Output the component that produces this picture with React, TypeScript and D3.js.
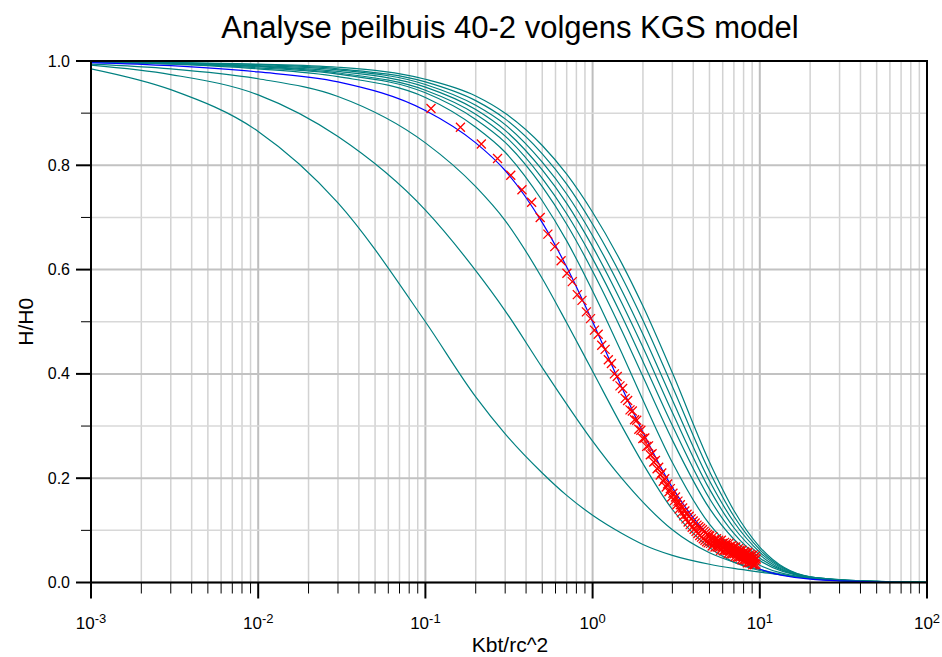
import * as d3 from 'd3'

// sample points along the type curves (x = Kbt/rc^2)
const curveX = [0.001, 0.003, 0.01, 0.03, 0.1, 0.2, 0.3, 0.5, 0.7, 1, 1.5, 2, 3, 5, 7, 10, 20, 50, 100]

// KGS type curves (teal)
const curveA = [0.985, 0.945, 0.865, 0.728, 0.5, 0.356, 0.285, 0.21, 0.167, 0.129, 0.094, 0.073, 0.052, 0.035, 0.027, 0.02, 0.008, 0.002, 0.001]
const curveB = [0.992, 0.974, 0.935, 0.855, 0.714, 0.598, 0.521, 0.412, 0.342, 0.271, 0.199, 0.154, 0.101, 0.057, 0.039, 0.025, 0.008, 0.002, 0.001]
const curveC = [0.994, 0.985, 0.966, 0.932, 0.843, 0.759, 0.694, 0.583, 0.498, 0.405, 0.299, 0.228, 0.14, 0.067, 0.039, 0.023, 0.008, 0.0015, 0]
const curveD1 = [0.998, 0.994, 0.985, 0.97, 0.93, 0.873, 0.825, 0.732, 0.655, 0.559, 0.439, 0.35, 0.23, 0.112, 0.064, 0.033, 0.009, 0.001, 0]
const curveD2 = [0.998, 0.995, 0.987, 0.975, 0.939, 0.888, 0.844, 0.759, 0.687, 0.597, 0.482, 0.395, 0.273, 0.142, 0.083, 0.042, 0.0095, 0.001, 0]
const curveD3 = [0.998, 0.995, 0.989, 0.977, 0.944, 0.898, 0.856, 0.775, 0.707, 0.621, 0.51, 0.424, 0.301, 0.161, 0.094, 0.047, 0.01, 0.0015, 0]
const curveD4 = [0.999, 0.996, 0.99, 0.98, 0.95, 0.907, 0.867, 0.791, 0.727, 0.644, 0.535, 0.451, 0.326, 0.179, 0.105, 0.053, 0.01, 0.0015, 0]
const curveD5 = [0.999, 0.996, 0.991, 0.983, 0.955, 0.915, 0.878, 0.806, 0.745, 0.665, 0.559, 0.476, 0.35, 0.195, 0.116, 0.058, 0.0105, 0.0017, 0]
const curveD6 = [0.999, 0.997, 0.993, 0.985, 0.96, 0.924, 0.889, 0.822, 0.764, 0.687, 0.585, 0.503, 0.376, 0.213, 0.127, 0.063, 0.011, 0.002, 0]
const curveD7 = [0.999, 0.997, 0.994, 0.988, 0.965, 0.933, 0.9, 0.838, 0.783, 0.71, 0.611, 0.53, 0.402, 0.231, 0.138, 0.068, 0.011, 0.002, 0]
const typeCurves = [curveA, curveB, curveC, curveD1, curveD2, curveD3, curveD4, curveD5, curveD6, curveD7]

// fitted curve (blue)
const fitCurve = [0.997, 0.991, 0.979, 0.96, 0.905, 0.843, 0.79, 0.69, 0.605, 0.5, 0.373, 0.288, 0.182, 0.089, 0.052, 0.026, 0.0065, 0.001, 0]

// measurements (red crosses)
const measX = [
  0.108, 0.162, 0.216, 0.270, 0.324, 0.378, 0.432, 0.486, 0.540, 0.594, 0.648, 0.702, 0.756, 0.810, 0.864, 0.918, 0.972,
  1.026, 1.080, 1.134, 1.188, 1.242, 1.296, 1.350, 1.404, 1.458, 1.512, 1.566, 1.620, 1.674, 1.728, 1.782, 1.836, 1.890, 1.944, 1.998,
  2.052, 2.106, 2.160, 2.214, 2.268, 2.322, 2.376, 2.430, 2.484, 2.538, 2.592, 2.646, 2.700, 2.754, 2.808, 2.862, 2.916, 2.970,
  3.024, 3.078, 3.132, 3.186, 3.240, 3.294, 3.348, 3.402, 3.456, 3.510, 3.564, 3.618, 3.672, 3.726, 3.780, 3.834, 3.888, 3.942, 3.996,
  4.050, 4.104, 4.158, 4.212, 4.266, 4.320, 4.374, 4.428, 4.482, 4.536, 4.590, 4.644, 4.698, 4.752, 4.806, 4.860, 4.914, 4.968,
  5.022, 5.076, 5.130, 5.184, 5.238, 5.292, 5.346, 5.400, 5.454, 5.508, 5.562, 5.616, 5.670, 5.724, 5.778, 5.832, 5.886, 5.940, 5.994,
  6.048, 6.102, 6.156, 6.210, 6.264, 6.318, 6.372, 6.426, 6.480, 6.534, 6.588, 6.642, 6.696, 6.750, 6.804, 6.858, 6.912, 6.966,
  7.020, 7.074, 7.128, 7.182, 7.236, 7.290, 7.344, 7.398, 7.452, 7.506, 7.560, 7.614, 7.668, 7.722, 7.776, 7.830, 7.884, 7.938, 7.992,
  8.046, 8.100, 8.154, 8.208, 8.262, 8.316, 8.370, 8.424, 8.478, 8.532, 8.586, 8.640, 8.694, 8.748, 8.802, 8.856, 8.910, 8.964,
  9.018, 9.072, 9.126, 9.180, 9.234, 9.288, 9.342, 9.396, 9.450, 9.504,
]
const measY = [
  0.909, 0.873, 0.841, 0.813, 0.781, 0.753, 0.729, 0.700, 0.668, 0.644, 0.617, 0.593, 0.577, 0.552, 0.541, 0.519, 0.506,
  0.484, 0.476, 0.455, 0.447, 0.427, 0.420, 0.400, 0.395, 0.377, 0.372, 0.353, 0.349, 0.331, 0.329, 0.312, 0.311, 0.294, 0.292, 0.276,
  0.277, 0.261, 0.262, 0.245, 0.247, 0.231, 0.234, 0.218, 0.221, 0.206, 0.210, 0.194, 0.199, 0.183, 0.189, 0.174, 0.180, 0.164,
  0.171, 0.157, 0.164, 0.149, 0.156, 0.141, 0.149, 0.134, 0.143, 0.128, 0.137, 0.122, 0.131, 0.116, 0.127, 0.111, 0.122, 0.106, 0.118,
  0.102, 0.114, 0.098, 0.110, 0.094, 0.107, 0.090, 0.104, 0.087, 0.101, 0.084, 0.098, 0.081, 0.095, 0.078, 0.092, 0.076, 0.090,
  0.089, 0.075, 0.081, 0.070, 0.088, 0.075, 0.082, 0.068, 0.076, 0.084, 0.068, 0.078, 0.081, 0.067, 0.074, 0.062, 0.081, 0.068, 0.075,
  0.061, 0.070, 0.077, 0.062, 0.071, 0.075, 0.061, 0.068, 0.056, 0.075, 0.062, 0.069, 0.055, 0.063, 0.071, 0.055, 0.065, 0.068,
  0.055, 0.061, 0.050, 0.068, 0.056, 0.062, 0.049, 0.057, 0.065, 0.049, 0.059, 0.062, 0.049, 0.055, 0.044, 0.062, 0.050, 0.056, 0.043,
  0.051, 0.059, 0.044, 0.053, 0.057, 0.043, 0.050, 0.038, 0.057, 0.045, 0.051, 0.038, 0.047, 0.054, 0.039, 0.049, 0.052, 0.039,
  0.046, 0.034, 0.053, 0.041, 0.047, 0.034, 0.043, 0.050, 0.035, 0.045,
]

const xExponents = [-3, -2, -1, 0, 1, 2]
const yTicks = [0, 0.2, 0.4, 0.6, 0.8, 1.0]
const yMinor = [0.1, 0.3, 0.5, 0.7, 0.9]

const title = 'Analyse peilbuis 40-2 volgens KGS model'
const xTitle = 'Kbt/rc^2'
const yTitle = 'H/H0'

const font = 'Liberation Sans, Arial, sans-serif'

export default function App() {
  const left = 91, right = 927, top = 61, bottom = 582.5

  const x = d3.scaleLog().domain([1e-3, 1e2]).range([left, right])
  const y = d3.scaleLinear().domain([0, 1]).range([bottom, top])

  const allTicks = x.ticks()
  const isMajor = (v: number) => Math.abs(Math.log10(v) - Math.round(Math.log10(v))) < 1e-9
  const minorX = allTicks.filter(v => !isMajor(v))

  const line = d3.line<number>()
    .x((_, i) => x(curveX[i]))
    .y(d => y(d))
    .curve(d3.curveMonotoneX)

  const cross = 'M-4.5,-4.5L4.5,4.5M-4.5,4.5L4.5,-4.5'

  return (
    <div style={{ position: 'absolute', left: 0, top: 0 }}>
      <svg width={942} height={657} style={{ display: 'block', background: '#fff' }} fontFamily={font}>
        <defs>
          <clipPath id="plot">
            <rect x={left} y={top} width={right - left} height={bottom - top} />
          </clipPath>
        </defs>

        {/* grid */}
        <g>
          {minorX.map(v => (
            <line key={'gx' + v} x1={x(v)} x2={x(v)} y1={top} y2={bottom} stroke="#d2d2d2" strokeWidth={1.5} />
          ))}
          {xExponents.map(e => (
            <line key={'gX' + e} x1={x(Math.pow(10, e))} x2={x(Math.pow(10, e))} y1={top} y2={bottom} stroke="#bebebe" strokeWidth={2} />
          ))}
          {yMinor.map(v => (
            <line key={'gy' + v} x1={left} x2={right} y1={y(v)} y2={y(v)} stroke="#d8d8d8" strokeWidth={1.5} />
          ))}
          {yTicks.map(v => (
            <line key={'gY' + v} x1={left} x2={right} y1={y(v)} y2={y(v)} stroke="#c2c2c2" strokeWidth={2} />
          ))}
        </g>

        {/* curves */}
        <g clipPath="url(#plot)" fill="none">
          {typeCurves.map((c, i) => (
            <path key={'c' + i} d={line(c) || ''} stroke="#008080" strokeWidth={1.2} />
          ))}
          <path d={line(fitCurve) || ''} stroke="#0000ff" strokeWidth={1.2} />
        </g>

        {/* measurements */}
        <g stroke="#ff0000" strokeWidth={1.3} fill="none">
          {measX.map((v, i) => (
            <path key={'m' + i} d={cross} transform={`translate(${x(v)},${y(measY[i])})`} />
          ))}
        </g>

        {/* frame */}
        <rect x={left} y={top} width={right - left} height={bottom - top} fill="none" stroke="#000" strokeWidth={2} />

        {/* y axis */}
        <g>
          {yTicks.map(v => (
            <g key={'yt' + v}>
              <line x1={left - 15} x2={left} y1={y(v)} y2={y(v)} stroke="#000" strokeWidth={2} />
              <text x={70} y={y(v) + 5.5} textAnchor="end" fontSize={16}>{v.toFixed(1)}</text>
            </g>
          ))}
          {yMinor.map(v => (
            <line key={'ym' + v} x1={left - 10} x2={left} y1={y(v)} y2={y(v)} stroke="#000" strokeWidth={1} />
          ))}
        </g>

        {/* x axis */}
        <g>
          {minorX.map(v => (
            <line key={'xm' + v} x1={x(v)} x2={x(v)} y1={bottom} y2={bottom + 11} stroke="#000" strokeWidth={1} />
          ))}
          {xExponents.map(e => (
            <g key={'xt' + e}>
              <line x1={x(Math.pow(10, e))} x2={x(Math.pow(10, e))} y1={bottom} y2={bottom + 16} stroke="#000" strokeWidth={2} />
              <text x={x(Math.pow(10, e))} y={629} textAnchor="middle" fontSize={17}>
                10<tspan dy={-6} fontSize={13}>{String(e)}</tspan>
              </text>
            </g>
          ))}
        </g>

        {/* titles */}
        <text x={(left + right) / 2 + 1} y={38} textAnchor="middle" fontSize={31}>{title}</text>
        <text x={(left + right) / 2 + 1} y={652} textAnchor="middle" fontSize={21}>{xTitle}</text>
        <text transform={`translate(33,${(top + bottom) / 2}) rotate(-90)`} textAnchor="middle" fontSize={21}>{yTitle}</text>
      </svg>
    </div>
  )
}
